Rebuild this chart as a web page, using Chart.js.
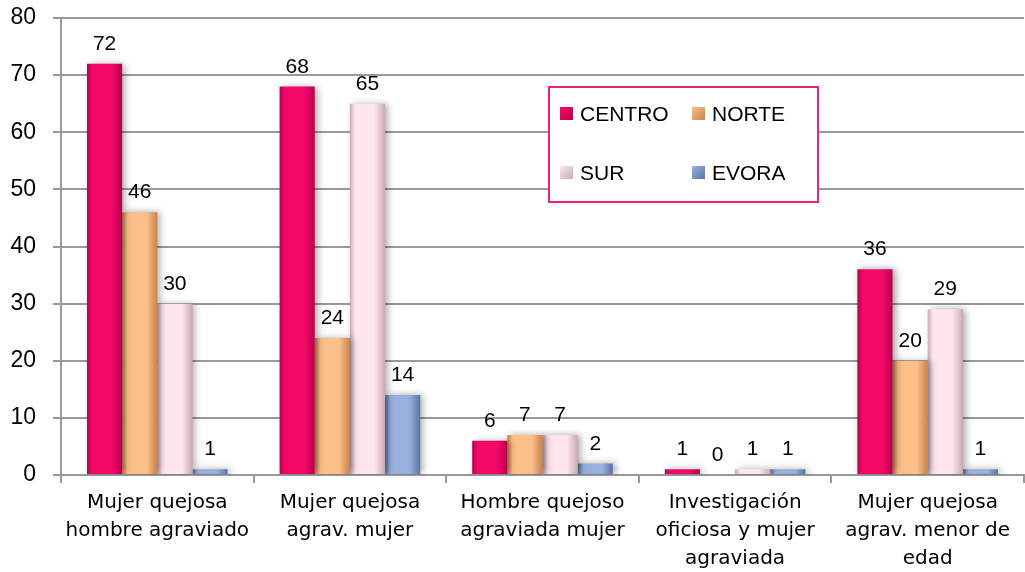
<!DOCTYPE html>
<html>
<head>
<meta charset="utf-8">
<script src="https://cdn.jsdelivr.net/npm/chart.js@4"></script>
<style>
  html, body { margin: 0; padding: 0; background: #fff; }
  #wrap { width: 1025px; height: 572px; position: relative; }
</style>
</head>
<body>
<div id="wrap"><canvas id="barChart"></canvas></div>
<script>
// categories and series
const categories = [
  ["Mujer quejosa", "hombre agraviado"],
  ["Mujer quejosa", "agrav. mujer"],
  ["Hombre quejoso", "agraviada mujer"],
  ["Investigación", "oficiosa y mujer", "agraviada"],
  ["Mujer quejosa", "agrav. menor de", "edad"]
]
const centro = [72, 68, 6, 1, 36]
const norte = [46, 24, 7, 0, 20]
const sur = [30, 65, 7, 1, 29]
const evora = [1, 14, 2, 1, 1]
const yTicks = [0, 10, 20, 30, 40, 50, 60, 70, 80]

// base colours: [edge, middle]
const palette = {
  CENTRO: ["#b8004a", "#f5076a"],
  NORTE: ["#c8824e", "#fbbf88"],
  SUR: ["#c9a9b3", "#fde6ed"],
  EVORA: ["#5873a6", "#98b0de"]
}

//give each bar a horizontal gradient once its position is known
const gradientPlugin = {
  id: "gradient",
  beforeDatasetsDraw(chart){
    const c = chart.ctx
    chart.data.datasets.forEach((ds, i) => {
      const col = palette[ds.label]
      chart.getDatasetMeta(i).data.forEach(bar => {
        const x0 = bar.x - bar.width / 2, x1 = bar.x + bar.width / 2
        const g = c.createLinearGradient(x0, 0, x1, 0)
        g.addColorStop(0, col[0])
        g.addColorStop(0.15, col[1])
        g.addColorStop(0.7, col[1])
        g.addColorStop(1, col[0])
        bar.options = Object.assign({}, bar.options, { backgroundColor: g })
      })
    })
    //soft shadow behind the bars
    c.save()
    c.shadowColor = "rgba(0,0,0,0.35)"
    c.shadowBlur = 7
    c.shadowOffsetX = 3
    c.shadowOffsetY = 0
  },
  afterDatasetsDraw(chart){
    chart.ctx.restore()
  }
}

//value labels above each bar
const valuePlugin = {
  id: "values",
  afterDatasetsDraw(chart){
    const c = chart.ctx
    c.save()
    c.font = "21px 'Liberation Sans', Arial, sans-serif"
    c.fillStyle = "#000"
    c.textAlign = "center"
    c.textBaseline = "alphabetic"
    chart.data.datasets.forEach((ds, i) => {
      chart.getDatasetMeta(i).data.forEach((bar, j) => {
        c.fillText(ds.data[j], bar.x, bar.y - 14)
      })
    })
    c.restore()
  }
}

//boxed legend drawn inside the plot
const boxLegend = {
  id: "boxLegend",
  afterDraw(chart){
    const c = chart.ctx
    const bx = 549, by = 87, bw = 269, bh = 115
    c.save()
    c.fillStyle = "#fff"
    c.fillRect(bx, by, bw, bh)
    c.strokeStyle = "#f0207a"
    c.lineWidth = 2
    c.strokeRect(bx, by, bw, bh)
    c.font = "21px 'Liberation Sans', Arial, sans-serif"
    c.textBaseline = "middle"
    const pos = [[560, 114], [692, 114], [560, 173], [692, 173]]
    chart.data.datasets.forEach((ds, i) => {
      const [x, y] = pos[i]
      const g = c.createLinearGradient(x, y - 7, x + 13, y + 7)
      g.addColorStop(0, palette[ds.label][1])
      g.addColorStop(1, palette[ds.label][0])
      c.fillStyle = g
      c.fillRect(x, y - 7, 13, 13)
      c.fillStyle = "#000"
      c.fillText(ds.label, x + 20, y + 1)
    })
    c.restore()
  }
}

function makeSet(label, data){
  return {
    label: label,
    data: data,
    backgroundColor: palette[label][1],
    borderWidth: 0,
    barPercentage: 1,
    categoryPercentage: 0.73
  }
}

new Chart("barChart", {
  type: "bar",
  data: {
    labels: categories,
    datasets: [
      makeSet("CENTRO", centro),
      makeSet("NORTE", norte),
      makeSet("SUR", sur),
      makeSet("EVORA", evora)
    ]
  },
  options: {
    responsive: true,
    maintainAspectRatio: false,
    animation: false,
    layout: { padding: { top: 18, right: 1, left: 0, bottom: 0 } },
    scales: {
      x: {
        grid: {
          offset: true,
          drawOnChartArea: false,
          color: "#999",
          lineWidth: 2,
          tickLength: 8
        },
        border: { color: "#999", width: 2 },
        ticks: {
          color: "#000",
          font: { family: "'DejaVu Sans', sans-serif", size: 20, lineHeight: 1.4 },
          padding: 6,
          maxRotation: 0
        },
        afterFit: (s) => { s.height = 97 }
      },
      y: {
        min: 0,
        max: 80,
        afterBuildTicks: (s) => { s.ticks = yTicks.map(v => ({ value: v })) },
        grid: { color: "#999", lineWidth: 2, tickLength: 8 },
        border: { color: "#999", width: 2 },
        ticks: {
          color: "#000",
          font: { family: "'Liberation Sans', Arial, sans-serif", size: 23 },
          padding: 17
        },
        afterFit: (s) => {
          s.width = 61
          s.paddingTop = 0
          s.paddingBottom = 0
        }
      }
    },
    plugins: {
      legend: { display: false },
      tooltip: { enabled: false }
    }
  },
  plugins: [gradientPlugin, valuePlugin, boxLegend]
})
</script>
</body>
</html>
